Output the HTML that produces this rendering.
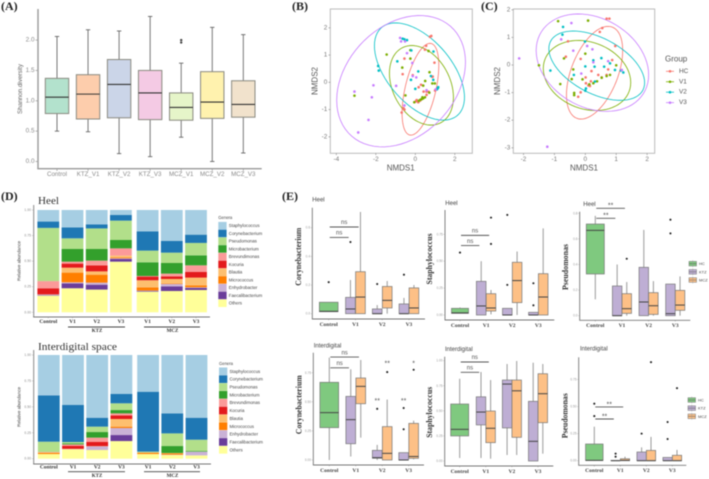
<!DOCTYPE html>
<html lang="en">
<head>
<meta charset="utf-8">
<title>Skin microbiome diversity and composition figure</title>
<style>
html,body{margin:0;padding:0;background:#fff;}
body{width:709px;height:479px;overflow:hidden;}
svg{display:block;filter:blur(.45px);font-family:"Liberation Sans",sans-serif;}
</style>
</head>
<body>
<svg id="fig" xmlns="http://www.w3.org/2000/svg" width="709" height="479" viewBox="0 0 709 479">
  <g id="panelA"></g>
  <g id="panelB"></g>
  <g id="panelC"></g>
  <g id="panelD1"></g>
  <g id="panelD2"></g>
  <g id="panelE"></g>
</svg>
<script>
/* ---------- Panel A data ---------- */
const shannonCategories = ['Control','KTZ_V1','KTZ_V2','KTZ_V3','MCZ_V1','MCZ_V2','MCZ_V3'];
const shannonTicks = [0,0.5,1,1.5,2];
const shannonStats = [
  [.5,.79,1.06,1.37,2.06],[.49,.70,1.11,1.43,2.17],[.13,.72,1.27,1.68,2.15],[.08,.69,1.13,1.50,2.39],
  [.4,.68,.89,1.13,1.62],[0,.71,.98,1.48,2.21],[.14,.73,.94,1.33,2.09]];
const shannonOutliers = [[],[],[],[],[1.96,2.0],[],[]];
const shannonFills = ['#b3e2cd','#fdcdac','#cbd5e8','#f4cae4','#e6f5c9','#fff2ae','#f1e2cc'];

/* ---------- Panels B and C data ---------- */
const nmdsGroups = ['HC','V1','V2','V3'];
const nmdsColors = ['#F8766D','#7CAE00','#00BFC4','#C77CFF'];
const heelTicksX = [-4,-2,0,2];
const heelTicksY = [-2,-1,0,1,2];
const interTicksX = [-2,-1,0,1,2];
const interTicksY = [-3,-2,-1,0,1,2];
const heelPointsHC = [[.74,1.67],[.81,1.7],[.55,1.34],[.49,1.2],[-.55,.87],[.97,.72],[-.64,.3],[.86,.2],[.29,-.09],[.17,-.18],[.42,-.34],[.57,-.34],[.57,-.46],[.07,-.65],[.03,-.7],[.15,-.73],[.25,-.67],[-.6,-.95],[-.69,-1.11],[-.55,-1.0],[-.13,.26],[.05,-.68],[.68,-.35],[1.0,-.3],[.88,.21]];
const heelPointsV1 = [[-1.45,1.02],[-3.08,-.49],[-.25,1.18],[-.25,.87],[-.66,.54],[.67,1.15],[.72,.37],[.5,.05],[.4,-.12],[-.5,-.48],[-.05,-.73],[.18,-.68],[.32,-.62],[.4,-.59],[.49,-.55],[.71,-.38],[.86,-.04],[.99,-.04],[.25,-.64],[.36,-.55]];
const heelPointsV2 = [[-.64,1.6],[-.42,1.55],[-.55,1.58],[-.2,1.17],[-.91,.77],[-1.88,.6],[-1.85,.43],[.15,.4],[-.22,.09],[0,-.24],[.92,1.13],[.79,.23],[.91,.09],[1.16,-.18],[1.09,-.26],[1.14,-.22]];
const heelPointsV3 = [[-.77,1.63],[-.72,1.5],[-.52,1.5],[-.42,1.07],[-.15,.71],[-.13,.23],[.05,.18],[-.97,-.13],[-2.12,-.11],[-2.2,-.55],[-3.08,-.34],[-2.37,-1.38],[-2.89,-1.84],[-.55,-.85],[1.03,-.26],[.57,-.29]];
const interPointsHC = [[.69,1.68],[.78,1.68],[.55,1.34],[.47,1.2],[-.56,.86],[.97,.69],[-.63,.3],[-.15,.22],[.87,.18],[.74,-.16],[.2,-.22],[.42,-.36],[.01,-.45],[.18,-.59],[.02,-.66],[.1,-.74],[.15,-.76],[-.15,-.99],[-.23,-1.15],[.53,-.45],[.69,-.36]];
const interPointsV1 = [[-.88,1.59],[.09,1.61],[-1.5,-.01],[-.69,.24],[0,.41],[-.39,-.16],[1.0,-.01],[-.44,-.51],[-.09,-.52],[-.81,-.69],[-.36,-1.01],[-.36,-1.09],[.13,-.7],[.26,-.66],[.38,-.59],[.53,-.46],[.69,-.4],[.8,-.36]];
const interPointsV2 = [[-.72,1.38],[-.74,1.1],[-.01,.85],[-1.13,-.2],[.26,.17],[.52,.25],[0,-.05],[.3,-.06],[.61,-.06],[.8,.06],[.96,-.18],[-.37,-.36],[1.15,-.2],[1.23,-.27],[.02,-.85],[0,-.93],[.31,-.6]];
const interPointsV3 = [[-.45,1.52],[-.78,.93],[-.39,.52],[.06,.69],[.23,.57],[-2.14,.24],[.26,.1],[-.13,-.31],[.74,.14],[-1.23,-2.96],[1.18,-.18]];
/* ellipse summary: centre x, half-range x, centre y, half-range y, x/y correlation */
const heelEllipses = [[.26,.93,-.255,1.685,.52],[.31,1.62,-.11,1.46,-.3],[.21,2.28,.395,1.785,-.53],[-.72,3.26,.04,2.41,.29]];
const interEllipses = [[.3,.91,-.28,1.68,.48],[.055,1.415,-.38,1.27,-.2],[.37,1.55,-.025,1.255,-.49],[.23,1.82,.085,1.765,-.25]];

/* ---------- Panel D data ---------- */
const genera = ['Staphylococcus','Corynebacterium','Pseudomonas','Microbacterium','Brevundimonas','Kocuria','Blautia','Micrococcus','Enhydrobacter','Faecalibacterium','Others'];
const generaColors = ['#a6cee3','#1f78b4','#b2df8a','#33a02c','#fb9a99','#e31a1c','#fdbf6f','#ff7f00','#cab2d6','#6a3d9a','#ffff99'];
const stackCategories = ['Control','V1','V2','V3','V1','V2','V3'];
const stackTicks = [0,0.25,0.5,0.75,1];
/* each row runs bottom to top: Others ... Staphylococcus */
const heelStacks = [
  [.163,.005,.005,0,.002,.06,.07,0,.52,.062,.113],
  [.235,.048,.01,.095,.048,.04,.019,.124,.104,.107,.17],
  [.222,.048,.02,.078,.032,.059,.046,.114,.201,.04,.14],
  [.495,.026,.007,.009,.017,0,.071,.082,.189,.055,.049],
  [.202,.006,.004,.032,.069,.036,.006,.134,.114,.189,.208],
  [.208,.046,.023,.006,.043,.026,.026,.104,.101,.114,.303],
  [.218,.02,.006,.02,.075,.055,.065,.098,.121,.081,.241]];
const interStacks = [
  [.045,0,0,.012,.003,0,.004,0,.1,.447,.389],
  [.09,0,.002,0,.003,.03,.013,.01,.013,.357,.482],
  [.084,0,.035,0,.002,.04,.042,.054,.052,.086,.605],
  [.17,.058,.068,.013,.074,.035,.019,.032,.065,.09,.376],
  [.045,0,0,.01,.006,0,0,.002,.005,.578,.354],
  [.035,0,.004,.012,.004,0,0,.067,.122,.193,.563],
  [.032,0,.036,0,0,0,0,.006,.109,.212,.605]];

/* ---------- Panel E data: Control, KTZ V1, MCZ V1, KTZ V2, MCZ V2, KTZ V3, MCZ V3 ---------- */
const boxCategories = ['Control','V1','V2','V3'];
const boxLegend = ['HC','KTZ','MCZ'];
const boxColors = ['#7fc97f','#beaed4','#fdc086'];
const heelCoryTicks = [0,.2,.4,.6];
const heelCoryStats = [[.014,.014,.016,.08,.08],[0,0,.033,.114,.235],[0,0,.116,.293,.71],[0,0,0,.033,.06],[0,.04,.093,.19,.228],[0,0,0,.068,.11],[0,0,.04,.18,.2]];
const heelCoryOutliers = [[.22],[.5],[],[.207],[],[.272],[]];
const heelCorySig = [[.532,0,'ns'],[.605,1,'ns']];
const heelStaphTicks = [0,.25,.5,.75];
const heelStaphStats = [[.015,.015,.02,.062,.07],[0,0,.084,.313,.5],[.006,.037,.065,.198,.232],[0,0,0,.062,.062],[0,.115,.32,.49,.59],[0,0,0,.025,.025],[0,0,.167,.384,.805]];
const heelStaphOutliers = [[.58],[],[.905,.66],[.93,.28],[],[.295,.09],[]];
const heelStaphSig = [[.645,0,'ns'],[.74,1,'ns']];
const heelPseuTicks = [0,.2,.4,.6,.8];
const heelPseuStats = [[.128,.326,.667,.716,.78],[0,0,0,.232,.4],[0,.018,.055,.172,.263],[0,0,.107,.378,.67],[0,.01,.078,.18,.27],[0,0,.016,.247,.247],[0,.042,.083,.198,.307]];
const heelPseuOutliers = [[],[],[.445],[],[],[.75,.643],[]];
const heelPseuSig = [[.761,0,'**'],[.839,1,'**']];
const interCoryTicks = [0,.25,.5,.75];
const interCoryStats = [[0,.278,.407,.668,.88],[.03,.14,.347,.547,.78],[.192,.484,.633,.705,.86],[0,.015,.02,.083,.13],[0,0,.057,.287,.52],[0,0,0,.063,.063],[.006,.014,.03,.315,.338]];
const interCoryOutliers = [[],[],[],[.44],[.756],[.447,.264],[.776]];
const interCorySig = [[.793,0,'ns'],[.885,1,'ns']];
const interCoryMarks = [[3,'**',.505],[4,'**',.825],[5,'**',.505],[6,'*',.825]];
const interStaphTicks = [0,.25,.5,.75,1];
const interStaphStats = [[.03,.25,.315,.568,.82],[.03,.36,.488,.64,.887],[.023,.183,.326,.498,.807],[.06,.33,.767,.807,.967],[.06,.236,.70,.807,.997],[0,0,.196,.595,.98],[.073,.382,.671,.87,.967]];
const interStaphOutliers = [[],[],[],[],[],[],[]];
const interStaphSig = [[.884,0,'ns'],[.987,1,'ns']];
const interPseuTicks = [0,.25,.5,.75];
const interPseuStats = [[0,.003,.003,.154,.314],[0,0,0,.003,.003],[0,0,.003,.018,.037],[0,0,0,.08,.123],[0,0,0,.095,.22],[0,0,0,.03,.03],[0,0,0,.05,.1]];
const interPseuOutliers = [[.526,.412],[.065,.037],[],[.25],[.91],[.357,.2],[.67]];
const interPseuSig = [[.385,0,'**'],[.496,1,'**']];

/* ---------- Helpers ---------- */
const NS = 'http://www.w3.org/2000/svg';
function shape(parent, tag, name, attrs) {
  const el = document.createElementNS(NS, tag);
  for (const k in attrs) el.setAttribute(k, attrs[k]);
  
  
  parent.appendChild(el);
  return el;
}
function line(parent, name, x1, y1, x2, y2, stroke, w) {
  return shape(parent, 'line', name, {x1, y1, x2, y2, stroke, 'stroke-width': w});
}
function label(parent, name, str, x, y, o) {
  o = o || {};
  const a = {x, y, 'font-size': o.size || 6, fill: o.fill || '#555', 'text-anchor': o.anchor || 'middle', 'dominant-baseline': 'central'};
  if (o.serif) a['font-family'] = '"Liberation Serif",serif';
  if (o.bold) a['font-weight'] = 'bold';
  if (o.rot) a.transform = 'rotate(' + o.rot + ' ' + x + ' ' + y + ')';
  if (o.len) { a.textLength = o.len; a.lengthAdjust = 'spacingAndGlyphs'; }
  const t = shape(parent, 'text', name, a);
  t.textContent = str;
  return t;
}
const SVG = document.getElementById('fig');
const LET = {serif: true, bold: true, size: 12, fill: '#222', anchor: 'start'};
label(SVG, 'panel-label-a', '(A)', 1, 6, LET);
label(SVG, 'panel-label-b', '(B)', 292, 6, LET);
label(SVG, 'panel-label-c', '(C)', 481, 6, LET);
label(SVG, 'panel-label-d', '(D)', 1, 196, LET);
label(SVG, 'panel-label-e', '(E)', 282, 196, LET);

/* ---------- Panel A ---------- */
(function () {
  const g = document.getElementById('panelA');
  const y = v => 161.5 - v * 60.7;
  const x = i => 57 + i * 31.05;
  line(g, 'y-axis-line', 38, 9, 38, 168.7, '#999', 1.4);
  line(g, 'x-axis-line', 37.3, 168.7, 261.7, 168.7, '#999', 1.4);
  shannonTicks.forEach(t => {
    line(g, 'y-tick', 35.5, y(t), 38, y(t), '#999', .7);
    label(g, 'y-tick-label', t.toFixed(1), 34.5, y(t), {anchor: 'end', size: 6.4, fill: '#8a8a8a'});
  });
  label(g, 'y-axis-title', 'Shannon.diversity', 21, 89, {rot: -90, size: 6, fill: '#666', len: 50});
  shannonCategories.forEach((c, i) => {
    line(g, 'x-tick', x(i), 168.7, x(i), 171, '#999', .7);
    label(g, 'x-tick-label', c, x(i), 174.5, {size: 6.2, fill: '#8a8a8a'});
    const s = shannonStats[i];
    line(g, 'whisker', x(i), y(s[0]), x(i), y(s[4]), '#777', 1);
    line(g, 'whisker-cap', x(i) - 2.2, y(s[0]), x(i) + 2.2, y(s[0]), '#666', .9);
    line(g, 'whisker-cap', x(i) - 2.2, y(s[4]), x(i) + 2.2, y(s[4]), '#666', .9);
    shape(g, 'rect', 'box-' + c.toLowerCase().replace('_', '-'), {x: x(i) - 11.7, y: y(s[3]), width: 23.4, height: y(s[1]) - y(s[3]), fill: shannonFills[i], stroke: '#8a8a80', 'stroke-width': 1});
    line(g, 'median-line', x(i) - 11.7, y(s[2]), x(i) + 11.7, y(s[2]), '#333', 1.1);
    shannonOutliers[i].forEach(o => shape(g, 'circle', 'outlier', {cx: x(i), cy: y(o), r: 1.2, fill: '#444'}));
  });
})();

/* ---------- Panels B, C ---------- */
function drawNmds(g, f, x, y, ticksX, ticksY, pointSets, ellipses) {
  shape(g, 'rect', 'plot-frame', {x: f.x, y: f.y, width: f.w, height: f.h, fill: 'none', stroke: '#bbb', 'stroke-width': 1});
  ticksX.forEach(t => {
    line(g, 'x-tick', x(t), f.y + f.h, x(t), f.y + f.h + 1.8, '#888', .6);
    label(g, 'x-tick-label', String(t), x(t), f.y + f.h + 6.3, {size: 6.4, fill: '#777'});
  });
  ticksY.forEach(t => {
    line(g, 'y-tick', f.x - 1.8, y(t), f.x, y(t), '#888', .6);
    label(g, 'y-tick-label', String(t), f.x - 3, y(t), {anchor: 'end', size: 6.4, fill: '#777'});
  });
  ellipses.forEach((e, i) => {
    const phi = Math.acos(e[4]);
    let d = '';
    for (let k = 0; k <= 72; k++) {
      const t = k / 72 * Math.PI * 2;
      d += (k ? 'L' : 'M') + x(e[0] + e[1] * Math.cos(t)).toFixed(2) + ' ' + y(e[2] + e[3] * Math.cos(t + phi)).toFixed(2);
    }
    shape(g, 'path', 'ellipse-' + nmdsGroups[i].toLowerCase(), {d: d + 'Z', fill: 'none', stroke: nmdsColors[i], 'stroke-width': .8});
  });
  pointSets.forEach((pts, i) => {
    pts.forEach(p => shape(g, 'circle', 'point-' + nmdsGroups[i].toLowerCase(), {cx: x(p[0]), cy: y(p[1]), r: 1.3, fill: nmdsColors[i]}));
  });
}
(function () {
  const g = document.getElementById('panelB');
  drawNmds(g, {x: 330.3, y: 9, w: 142, h: 144.3}, v => 415.3 + v * 19.75, v => 82.3 - v * 27.25,
    heelTicksX, heelTicksY, [heelPointsHC, heelPointsV1, heelPointsV2, heelPointsV3], heelEllipses);
  label(g, 'x-axis-title', 'NMDS1', 400.7, 168, {size: 8, fill: '#555'});
  label(g, 'y-axis-title', 'NMDS2', 315, 81, {size: 8, fill: '#555', rot: -90});
})();
(function () {
  const g = document.getElementById('panelC');
  drawNmds(g, {x: 513.3, y: 9, w: 141.4, h: 144.3}, v => 585.3 + v * 30.9, v => 65 - v * 27.6,
    interTicksX, interTicksY, [interPointsHC, interPointsV1, interPointsV2, interPointsV3], interEllipses);
  label(g, 'x-axis-title', 'NMDS1', 584, 168, {size: 8, fill: '#555'});
  label(g, 'y-axis-title', 'NMDS2', 497.7, 81, {size: 8, fill: '#555', rot: -90});
  label(g, 'legend-title', 'Group', 665, 59, {anchor: 'start', size: 8, fill: '#555'});
  nmdsGroups.forEach((n, i) => {
    const ly = 71.3 + i * 10.45;
    line(g, 'legend-key-line', 666, ly, 674, ly, nmdsColors[i], .8);
    shape(g, 'circle', 'legend-key-point', {cx: 670, cy: ly, r: 1.3, fill: nmdsColors[i]});
    label(g, 'legend-label', n, 679, ly, {anchor: 'start', size: 6.4, fill: '#555'});
  });
})();

/* ---------- Panel D ---------- */
function drawStacks(g, o, stacks) {
  const y = v => o.zero - v * o.unit;
  const x = i => o.x0 + 24.2 * i + (i >= 4 ? 2.5 : 0);
  line(g, 'y-axis-line', 33.7, o.axisTop, 33.7, o.axisY, '#8a8a8a', 1);
  line(g, 'x-axis-line', 33.2, o.axisY, o.axisEnd, o.axisY, '#777', .9);
  stackTicks.forEach(t => {
    line(g, 'y-tick', 32, y(t), 33.7, y(t), '#999', .4);
    label(g, 'y-tick-label', t.toFixed(2), 31, y(t), {anchor: 'end', size: 3.4, fill: '#8a8a8a'});
  });
  label(g, 'y-axis-title', 'Relative abundance', 19, o.titleY, {rot: -90, size: 4.4, fill: '#444', len: 40});
  stacks.forEach((row, i) => {
    let cum = 0;
    row.forEach((v, j) => {
      if (v > 0) {
        const gi = genera.length - 1 - j;
        shape(g, 'rect', 'bar-segment-' + genera[gi].toLowerCase(), {x: x(i) - 10.9, y: y(cum + v), width: 21.8, height: y(cum) - y(cum + v), fill: generaColors[gi]});
      }
      cum += v;
    });
    line(g, 'x-tick', x(i), o.axisY, x(i), o.axisY + 1.2, '#777', .4);
    label(g, 'x-tick-label', stackCategories[i], x(i), o.labelY, {serif: true, bold: true, size: 5.4, fill: '#333'});
  });
  line(g, 'ktz-group-line', 68, o.groupY, 125, o.groupY, '#444', .9);
  line(g, 'mcz-group-line', 144, o.groupY, 200, o.groupY, '#444', .9);
  label(g, 'ktz-group-label', 'KTZ', 97, o.groupY + 4.6, {serif: true, bold: true, size: 5, fill: '#333'});
  label(g, 'mcz-group-label', 'MCZ', 172.5, o.groupY + 4.6, {serif: true, bold: true, size: 5, fill: '#333'});
  label(g, 'legend-title', 'Genera', o.legX, o.legY - 8, {anchor: 'start', size: 4.2, fill: '#444'});
  genera.forEach((n, i) => {
    const ly = o.legY + i * o.legStep;
    shape(g, 'rect', 'legend-swatch', {x: o.legX, y: ly - o.legStep / 2 + .1, width: 8.3, height: o.legStep - .2, fill: generaColors[i]});
    label(g, 'legend-label', n, o.legX + 10.5, ly, {anchor: 'start', size: 4.4, fill: '#444'});
  });
}
(function () {
  const g = document.getElementById('panelD1');
  label(g, 'chart-title', 'Heel', 38, 201, {anchor: 'start', serif: true, size: 11, fill: '#333', len: 21});
  drawStacks(g, {zero: 312.3, unit: 102.3, x0: 48.3, axisTop: 205, axisY: 317, axisEnd: 210, titleY: 261, labelY: 322, groupY: 327, legX: 218.3, legY: 225.7, legStep: 7.75}, heelStacks);
})();
(function () {
  const g = document.getElementById('panelD2');
  label(g, 'chart-title', 'Interdigital space', 38, 347, {anchor: 'start', serif: true, size: 11, fill: '#333', len: 79});
  drawStacks(g, {zero: 458.7, unit: 103.7, x0: 48.8, axisTop: 350, axisY: 464, axisEnd: 211, titleY: 407, labelY: 467.7, groupY: 471.7, legX: 219, legY: 371.3, legStep: 7.85}, interStacks);
})();

/* ---------- Panel E ---------- */
function drawBoxPanel(o, ticks, stats, outliers, sig, marks) {
  const g = shape(document.getElementById('panelE'), 'g', o.name, {});
  const y = v => o.zero - v * o.unit;
  const x = i => o.x0 + i * o.step;
  const boxX = i => i === 0 ? x(0) : x(1 + Math.floor((i - 1) / 2)) + ((i - 1) % 2 === 0 ? -o.dodge : o.dodge);
  line(g, 'y-axis-line', o.axisX, o.top, o.axisX, o.axisY, '#777', .9);
  line(g, 'x-axis-line', o.axisX - .4, o.axisY, o.end, o.axisY, '#777', .9);
  ticks.forEach(t => {
    line(g, 'y-tick', o.axisX - 1.5, y(t), o.axisX, y(t), '#999', .4);
    label(g, 'y-tick-label', t.toFixed(o.dec), o.axisX - 2.2, y(t), {anchor: 'end', size: 3.2, fill: '#999'});
  });
  boxCategories.forEach((c, i) => {
    line(g, 'x-tick', x(i), o.axisY, x(i), o.axisY + 1.2, '#777', .4);
    label(g, 'x-tick-label', c, x(i), o.axisY + 5.8, {serif: true, bold: true, size: 5.5, fill: '#444'});
  });
  label(g, 'chart-title', o.title, o.titleX, o.titleY, {anchor: 'start', size: 6, fill: '#444'});
  label(g, 'y-axis-title', o.yTitle, o.yTitleX, o.yTitleY, {serif: true, bold: true, size: 8, fill: '#333', rot: -90, len: o.yLen});
  stats.forEach((s, i) => {
    const w = i === 0 ? o.wideW : o.boxW;
    const colorIdx = i === 0 ? 0 : ((i - 1) % 2 === 0 ? 1 : 2);
    line(g, 'whisker', boxX(i), y(s[0]), boxX(i), y(s[4]), '#999', 1);
    shape(g, 'rect', 'box-' + boxLegend[colorIdx].toLowerCase(), {x: boxX(i) - w / 2, y: y(s[3]), width: w, height: Math.max(y(s[1]) - y(s[3]), .1), fill: boxColors[colorIdx], stroke: '#777', 'stroke-width': .7});
    line(g, 'median-line', boxX(i) - w / 2, y(s[2]), boxX(i) + w / 2, y(s[2]), '#444', 1);
    outliers[i].forEach(v => shape(g, 'circle', 'outlier', {cx: boxX(i), cy: y(v), r: 1.05, fill: '#222'}));
  });
  sig.forEach(s => {
    const to = boxX(1 + s[1]) - 1.8;
    line(g, 'significance-line', x(0) + 1, y(s[0]), to, y(s[0]), '#555', .9);
    const star = s[2] !== 'ns';
    label(g, 'significance-label', s[2], (x(0) + 1 + to) / 2, y(s[0]) - (star ? 2.2 : 3.8), {size: star ? 7 : 6, fill: '#555'});
  });
  (marks || []).forEach(m => {
    label(g, 'significance-label', m[1], boxX(m[0]), y(m[2]), {size: 7, fill: '#555'});
  });
  if (o.legX) {
    boxLegend.forEach((n, i) => {
      const ly = o.legY + i * 8.15;
      shape(g, 'rect', 'legend-swatch', {x: o.legX, y: ly - 2.3, width: 7.5, height: 4.6, fill: boxColors[i], stroke: '#777', 'stroke-width': .5});
      line(g, 'legend-swatch-median', o.legX, ly, o.legX + 7.5, ly, '#555', .5);
      line(g, 'legend-swatch-whisker', o.legX + 3.75, ly - 3.4, o.legX + 3.75, ly + 3.4, '#999', .4);
      label(g, 'legend-label', n, o.legX + 10, ly, {anchor: 'start', size: 4, fill: '#444'});
    });
  }
}
drawBoxPanel({name: 'heel-corynebacterium-boxplot', zero: 313.7, unit: 143.3, x0: 328.7, step: 26.75, dodge: 5, boxW: 9.7, wideW: 18.7, dec: 1, axisX: 312.3, top: 207.7, axisY: 319, end: 425, title: 'Heel', titleX: 312.3, titleY: 200.7, yTitle: 'Corynebacterium', yTitleX: 298.3, yTitleY: 256.7, yLen: 58}, heelCoryTicks, heelCoryStats, heelCoryOutliers, heelCorySig);
drawBoxPanel({name: 'heel-staphylococcus-boxplot', zero: 315, unit: 107.6, x0: 460, step: 26.1, dodge: 4.9, boxW: 9.6, wideW: 17, dec: 2, axisX: 445, top: 210, axisY: 320, end: 554.3, title: 'Heel', titleX: 445.3, titleY: 204, yTitle: 'Staphylococcus', yTitleX: 429.7, yTitleY: 259, yLen: 51}, heelStaphTicks, heelStaphStats, heelStaphOutliers, heelStaphSig);
drawBoxPanel({name: 'heel-pseudomonas-boxplot', zero: 315.7, unit: 128, x0: 595.3, step: 26.65, dodge: 4.8, boxW: 9.5, wideW: 18, dec: 1, axisX: 579.7, top: 211.7, axisY: 320.3, end: 690.3, title: 'Heel', titleX: 583.3, titleY: 205, yTitle: 'Pseudomonas', yTitleX: 565.7, yTitleY: 267, yLen: 46, legX: 689, legY: 263.7}, heelPseuTicks, heelPseuStats, heelPseuOutliers, heelPseuSig);
drawBoxPanel({name: 'interdigital-corynebacterium-boxplot', zero: 460, unit: 116.3, x0: 329.3, step: 26.45, dodge: 5, boxW: 9.7, wideW: 18.7, dec: 2, axisX: 313.3, top: 352.7, axisY: 465, end: 424, title: 'Interdigital', titleX: 313.7, titleY: 346.7, yTitle: 'Corynebacterium', yTitleX: 299, yTitleY: 404.7, yLen: 59}, interCoryTicks, interCoryStats, interCoryOutliers, interCorySig, interCoryMarks);
drawBoxPanel({name: 'interdigital-staphylococcus-boxplot', zero: 461, unit: 100.3, x0: 459.7, step: 26.1, dodge: 4.8, boxW: 9.5, wideW: 18, dec: 2, axisX: 444.7, top: 356.7, axisY: 466, end: 553.3, title: 'Interdigital', titleX: 445, titleY: 350, yTitle: 'Staphylococcus', yTitleX: 429.7, yTitleY: 412.3, yLen: 51}, interStaphTicks, interStaphStats, interStaphOutliers, interStaphSig);
drawBoxPanel({name: 'interdigital-pseudomonas-boxplot', zero: 460.7, unit: 108.3, x0: 594.3, step: 26, dodge: 4.7, boxW: 9.3, wideW: 17.5, dec: 2, axisX: 578.7, top: 357.3, axisY: 465.3, end: 686.3, title: 'Interdigital', titleX: 580, titleY: 349.3, yTitle: 'Pseudomonas', yTitleX: 565, yTitleY: 415.7, yLen: 45, legX: 688, legY: 400}, interPseuTicks, interPseuStats, interPseuOutliers, interPseuSig);
</script>
</body>
</html>
